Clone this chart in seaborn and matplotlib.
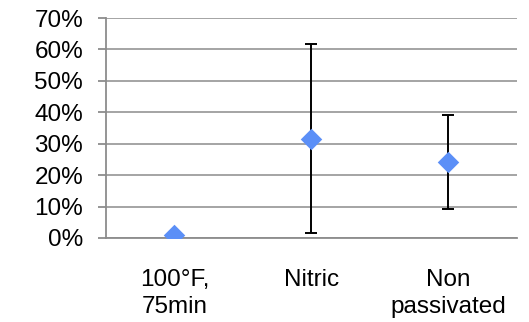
import matplotlib
matplotlib.use("Agg")
import matplotlib.pyplot as plt
from matplotlib.ticker import PercentFormatter, FixedLocator
import seaborn as sns
import pandas as pd
import numpy as np

categories = ["100°F,\n75min", "Nitric", "Non\npassivated"]
values = [0.010, 0.316, 0.242]
errors = [0.0, 0.300, 0.150]
y_ticks = [0.0, 0.1, 0.2, 0.3, 0.4, 0.5, 0.6, 0.7]

df = pd.DataFrame({"category": categories, "value": values, "error": errors})

sns.set_style("white")
plt.rcParams["font.family"] = ["Liberation Sans", "DejaVu Sans"]
plt.rcParams["text.color"] = "black"
plt.rcParams["xtick.labelcolor"] = "black"
plt.rcParams["ytick.labelcolor"] = "black"

fig = plt.figure(figsize=(5.29, 3.22), dpi=100)
ax = fig.add_axes([0.2004, 0.261, 0.7766, 0.683])

grid_col = "#8c8c8c"
ax.set_ylim(0, 0.7)
ax.set_yticks(y_ticks)
ax.yaxis.set_major_formatter(PercentFormatter(1.0, decimals=0))
ax.grid(axis="y", color=grid_col, linewidth=1.1, zorder=0)
ax.set_axisbelow(True)

# error bars (only for entries with nonzero error)
xpos = np.arange(len(df))
mask = df["error"].to_numpy() > 0
ax.errorbar(xpos[mask], df["value"][mask], yerr=df["error"][mask], fmt="none",
            ecolor="black", elinewidth=1.4, capsize=4.5, capthick=1.4, zorder=3)

sns.scatterplot(data=df, x="category", y="value", marker="D", s=120,
                color="#5b8ff7", edgecolor="#5b8ff7", linewidth=0, ax=ax, zorder=4)

ax.set_xlim(-0.5, len(df) - 0.5)
ax.set_xlabel("")
ax.set_ylabel("")

for side in ["top", "right"]:
    ax.spines[side].set_visible(False)
for side in ["left", "bottom"]:
    ax.spines[side].set_color(grid_col)
    ax.spines[side].set_linewidth(1.3)

fs = 17.5
ax.tick_params(axis="x", which="major", length=0, pad=22, labelsize=fs, labelcolor="black")
for lab in ax.get_xticklabels():
    lab.set_linespacing(1.3)
ax.xaxis.set_minor_locator(FixedLocator(np.arange(-0.5, len(df), 1.0)))
ax.tick_params(axis="x", which="minor", length=5.5, width=1.3, color=grid_col, direction="out")
ax.tick_params(axis="y", which="major", length=5.5, width=1.3, color=grid_col, pad=11, labelsize=fs,
               left=True, labelcolor="black")

fig.savefig("out.png", dpi=100)
